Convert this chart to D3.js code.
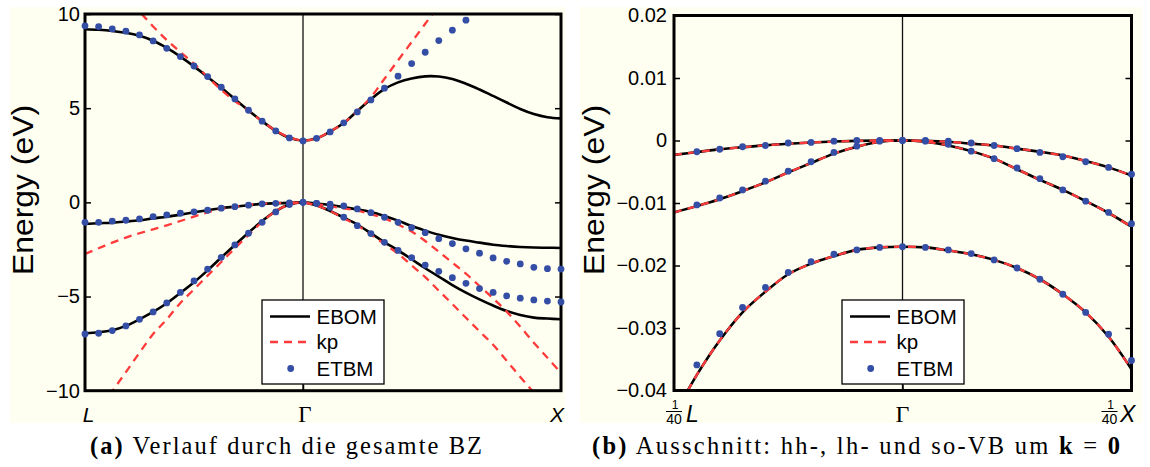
<!DOCTYPE html>
<html><head><meta charset="utf-8">
<script src="https://cdn.jsdelivr.net/npm/d3@7"></script>
<style>body{margin:0;background:#fff}svg{display:block}</style>
</head><body>
<svg id="c" width="1150" height="467"></svg>
<script>
// ---------------- DATA ----------------
// Panel (a): k positions in steps, L = -16, Γ = 0, X = +19
const kA = [-16,-15,-14,-13,-12,-11,-10,-9,-8,-7,-6,-5,-4,-3,-2,-1,0,1,2,3,4,5,6,7,8,9,10,11,12,13,14,15,16,17,18,19];
const xTicksA = [-16, 0, 19];
const xTickLabelsA = ["L", "Γ", "X"];
const yTicksA = [-10, -5, 0, 5, 10];

// EBOM (black solid)
const ebomCB_A  = [9.19,9.16,9.10,9.00,8.84,8.58,8.20,7.74,7.22,6.66,6.08,5.48,4.88,4.31,3.80,3.43,3.28,
                   3.40,3.76,4.21,4.85,5.47,6.02,6.37,6.58,6.69,6.68,6.55,6.30,5.99,5.65,5.30,4.96,4.69,4.52,4.46];
const ebomVB1_A = [-1.15,-1.11,-1.08,-1.02,-0.95,-0.85,-0.76,-0.65,-0.53,-0.42,-0.31,-0.23,-0.15,-0.08,-0.05,-0.03,0,
                   -0.07,-0.14,-0.26,-0.37,-0.51,-0.72,-0.97,-1.26,-1.50,-1.72,-1.89,-2.03,-2.14,-2.25,-2.32,-2.37,-2.40,-2.41,-2.42];
const ebomVB2_A = [-6.95,-6.90,-6.79,-6.56,-6.21,-5.82,-5.36,-4.81,-4.24,-3.61,-2.93,-2.26,-1.61,-0.99,-0.46,-0.12,0,
                   -0.17,-0.46,-0.81,-1.18,-1.64,-2.12,-2.55,-3.02,-3.50,-3.94,-4.39,-4.79,-5.15,-5.48,-5.77,-5.98,-6.12,-6.17,-6.21];
// kp (red dashed)
const kpCB_A  = [13.3,12.5,11.7,10.9,10.13,9.34,8.62,7.98,7.36,6.66,5.97,5.38,4.87,4.30,3.81,3.45,3.28,
                 3.40,3.76,4.21,4.85,5.58,6.56,7.54,8.51,9.48,10.46,11.4];
const kpVB1_A = [-2.74,-2.44,-2.14,-1.87,-1.64,-1.43,-1.22,-0.99,-0.76,-0.53,-0.35,-0.23,-0.14,-0.07,-0.04,-0.02,0,
                 -0.10,-0.21,-0.32,-0.44,-0.62,-0.85,-1.18,-1.55,-2.05,-2.62,-3.20,-3.79,-4.44,-5.10,-5.80,-6.60,-7.45,-8.25,-9.06];
const kpVB2_A = [-12.07,-11.05,-10.03,-9.01,-7.98,-6.99,-6.21,-5.34,-4.62,-3.89,-3.17,-2.44,-1.73,-1.04,-0.46,-0.12,0,
                 -0.18,-0.46,-0.85,-1.22,-1.72,-2.21,-2.73,-3.35,-3.97,-4.69,-5.40,-6.13,-6.85,-7.56,-8.41,-9.27,-10.1,-10.9,-11.7];
// ETBM (blue dots)
const etbmCB_A  = [9.37,9.33,9.21,9.09,8.89,8.57,8.18,7.74,7.24,6.68,6.11,5.49,4.89,4.31,3.79,3.42,3.26,
                   3.40,3.74,4.22,4.80,5.44,6.06,6.70,7.37,7.97,8.59,9.14,9.67];
const etbmVB1_A = [-1.06,-1.06,-1.00,-0.95,-0.88,-0.76,-0.67,-0.58,-0.51,-0.42,-0.31,-0.23,-0.15,-0.08,-0.05,-0.03,0,
                   -0.05,-0.10,-0.19,-0.35,-0.55,-0.79,-1.06,-1.34,-1.61,-1.93,-2.19,-2.47,-2.70,-2.95,-3.13,-3.27,-3.45,-3.52,-3.54];
const etbmVB2_A = [-6.99,-6.95,-6.81,-6.56,-6.21,-5.82,-5.34,-4.78,-4.17,-3.54,-2.92,-2.26,-1.64,-1.06,-0.51,-0.12,0,
                   -0.05,-0.26,-0.79,-1.24,-1.66,-2.12,-2.55,-2.94,-3.33,-3.66,-4.00,-4.30,-4.58,-4.78,-4.97,-5.09,-5.18,-5.24,-5.29];

// Panel (b): k positions in steps of 1/400, L side = -10, Γ = 0, X side = +10
const kB = [-10,-9,-8,-7,-6,-5,-4,-3,-2,-1,0,1,2,3,4,5,6,7,8,9,10];
const kDotsB = [-9,-8,-7,-6,-5,-4,-3,-2,-1,0,1,2,3,4,5,6,7,8,9,10];
const yTicksB = [-0.04,-0.03,-0.02,-0.01,0,0.01,0.02];
const ebomHH_B = [-0.0023,-0.00185,-0.00142,-0.00108,-0.00077,-0.00053,-0.00033,-0.00017,-0.00006,0,0,
                  -0.00005,-0.0002,-0.0005,-0.0008,-0.0013,-0.0018,-0.0024,-0.0033,-0.0043,-0.0056];
const ebomLH_B = [-0.0115,-0.0105,-0.0094,-0.0081,-0.0067,-0.0051,-0.0036,-0.0021,-0.0010,-0.0002,0,
                  -0.0002,-0.0008,-0.0017,-0.0029,-0.0046,-0.0063,-0.0079,-0.0097,-0.0116,-0.0138];
const ebomSO_B = [-0.0440,-0.0375,-0.0320,-0.0275,-0.0242,-0.0214,-0.0197,-0.0185,-0.0175,-0.0171,-0.0170,
                  -0.0171,-0.0176,-0.0182,-0.0191,-0.0204,-0.0222,-0.0246,-0.0275,-0.0314,-0.0366];
const kpHH_B = [-0.0023,-0.00185,-0.00142,-0.00108,-0.00077,-0.00053,-0.00033,-0.00017,-0.00006,0,0,
                -0.00005,-0.0002,-0.0005,-0.0008,-0.0013,-0.0018,-0.0024,-0.0033,-0.0043,-0.0056];
const kpLH_B = [-0.0115,-0.0105,-0.0094,-0.0081,-0.0067,-0.0051,-0.0036,-0.0021,-0.0010,-0.0002,0,
                -0.0002,-0.0008,-0.0017,-0.0029,-0.0046,-0.0063,-0.0079,-0.0097,-0.0116,-0.0138];
const kpSO_B = [-0.0440,-0.0375,-0.0320,-0.0275,-0.0242,-0.0214,-0.0197,-0.0185,-0.0175,-0.0171,-0.0170,
                -0.0171,-0.0176,-0.0182,-0.0191,-0.0204,-0.0222,-0.0246,-0.0275,-0.0314,-0.0366];
const etbmHH_B = [-0.0018,-0.0014,-0.0010,-0.0008,-0.0004,-0.0003,-0.0001,0,0,0,
                  0,-0.0001,-0.0004,-0.0008,-0.0013,-0.0019,-0.0026,-0.0034,-0.0043,-0.0054];
const etbmLH_B = [-0.0103,-0.0092,-0.0079,-0.0065,-0.0049,-0.0034,-0.0019,-0.0009,-0.0001,0,
                  -0.0001,-0.0006,-0.0017,-0.0029,-0.0044,-0.0061,-0.0079,-0.0097,-0.0115,-0.0133];
const etbmSO_B = [-0.0359,-0.0309,-0.0267,-0.0235,-0.0211,-0.0194,-0.0182,-0.0175,-0.0171,-0.0170,
                  -0.0171,-0.0175,-0.0181,-0.0191,-0.0204,-0.0222,-0.0246,-0.0275,-0.0310,-0.0352];

const legendLabels = ["EBOM", "kp", "ETBM"];
const yTitle = "Energy (eV)";

// ---------------- STYLE ----------------
const CREAM = "#fefef1", BLACK = "#000", RED = "#ff3a3a", BLUE = "#344ea6";
const SANS = "'Liberation Sans', Arial, Helvetica, sans-serif";
const SERIF = "'Liberation Serif', 'Times New Roman', serif";

const svg = d3.select("#c");

function panel(cfg) {
  const {id, x, y, bg} = cfg;
  const [x0, x1] = [x.range()[0], x.range()[x.range().length - 1]];
  const [y1, y0] = y.range();
  svg.append("rect").attr("x", bg[0]).attr("y", bg[1]).attr("width", bg[2]).attr("height", bg[3]).attr("fill", CREAM);
  svg.append("clipPath").attr("id", "clip" + id).append("rect")
     .attr("x", x0).attr("y", y0).attr("width", x1 - x0).attr("height", y1 - y0);
  const g = svg.append("g");

  // Γ vertical line
  g.append("line").attr("x1", x(0)).attr("x2", x(0)).attr("y1", y0).attr("y2", y1)
   .attr("stroke", "#111").attr("stroke-width", 1.3);

  // y axes (left with labels, right ticks only)
  const ay = g.append("g").attr("transform", `translate(${x0},0)`)
    .call(d3.axisLeft(y).tickValues(cfg.yTicks).tickSize(-6).tickPadding(cfg.yPad).tickFormat(cfg.yFmt));
  ay.select(".domain").remove();
  ay.selectAll(".tick line").attr("stroke-width", 1.5);
  ay.selectAll("text").attr("font-family", SANS).attr("font-size", cfg.tickFont).attr("fill", "#000");
  const ay2 = g.append("g").attr("transform", `translate(${x1},0)`)
    .call(d3.axisRight(y).tickValues(cfg.yTicks).tickSize(-6).tickFormat(""));
  ay2.select(".domain").remove();
  ay2.selectAll(".tick line").attr("stroke-width", 1.5);
  // bottom tick at Γ
  const ax = g.append("g").attr("transform", `translate(0,${y1})`)
    .call(d3.axisBottom(x).tickValues([0]).tickSize(-6).tickFormat(""));
  ax.select(".domain").remove();
  ax.selectAll(".tick line").attr("stroke-width", 1.5);

  // y title
  g.append("text").attr("transform", `translate(${cfg.titleX},${cfg.titleY}) rotate(-90)`)
   .attr("text-anchor", "middle").attr("font-family", SANS).attr("font-size", 29)
   .attr("textLength", 170).attr("lengthAdjust", "spacingAndGlyphs").text(yTitle);

  const plot = g.append("g").attr("clip-path", `url(#clip${id})`);
  const line = d3.line().x(d => x(d[0])).y(d => y(d[1])).curve(d3.curveCatmullRom.alpha(0.5));
  cfg.black.forEach(s => plot.append("path").datum(s.k.map((k, i) => [k, s.v[i]]).filter(d => d[1] !== undefined))
    .attr("d", line).attr("fill", "none").attr("stroke", BLACK).attr("stroke-width", 2.6));
  cfg.red.forEach(s => plot.append("path").datum(s.k.map((k, i) => [k, s.v[i]]).filter(d => d[1] !== undefined))
    .attr("d", line).attr("fill", "none").attr("stroke", RED).attr("stroke-width", 2.3).attr("stroke-dasharray", "8,6"));

  // frame
  g.append("rect").attr("x", x0).attr("y", y0).attr("width", x1 - x0).attr("height", y1 - y0)
   .attr("fill", "none").attr("stroke", "#000").attr("stroke-width", 3);

  // dots
  const ymin = y.domain()[0], ymax = y.domain()[1];
  cfg.dots.forEach(s => {
    const pts = s.v.map((v, i) => [s.k[i], v]).filter(d => d[1] >= ymin && d[1] <= ymax);
    g.append("g").selectAll("circle").data(pts).join("circle")
      .attr("cx", d => x(d[0])).attr("cy", d => y(d[1])).attr("r", 3.4).attr("fill", BLUE);
  });

  // legend
  const L = cfg.legend;
  const lg = g.append("g").attr("transform", `translate(${L[0]},${L[1]})`);
  lg.append("rect").attr("width", 122).attr("height", 84).attr("fill", "#fff").attr("stroke", "#000").attr("stroke-width", 1.3);
  const rows = [16.5, 42, 68.5];
  lg.append("line").attr("x1", 8).attr("x2", 48).attr("y1", rows[0]).attr("y2", rows[0]).attr("stroke", BLACK).attr("stroke-width", 2.6);
  lg.append("line").attr("x1", 8).attr("x2", 48).attr("y1", rows[1]).attr("y2", rows[1]).attr("stroke", RED).attr("stroke-width", 2.3).attr("stroke-dasharray", "8,6");
  lg.append("circle").attr("cx", 28.7).attr("cy", rows[2]).attr("r", 3.4).attr("fill", BLUE);
  legendLabels.forEach((t, i) => lg.append("text").attr("x", 54.5).attr("y", rows[i]).attr("dy", "0.36em")
    .attr("font-family", SANS).attr("font-size", 20.5).text(t));
  return g;
}

// ---------------- PANEL A ----------------
const xA = d3.scaleLinear().domain([-16, 0, 19]).range([85, 303, 561]);
const yA = d3.scaleLinear().domain([-10, 10]).range([390.7, 14]);
const kCBkpA = kA.slice(0, kpCB_A.length);
const gA = panel({
  id: "A", x: xA, y: yA, bg: [10, 7, 555, 416],
  yTicks: yTicksA, yPad: 5, yFmt: d3.format("d"), tickFont: 20,
  titleX: 33, titleY: 190, legend: [262, 300],
  black: [{k: kA, v: ebomCB_A}, {k: kA, v: ebomVB1_A}, {k: kA, v: ebomVB2_A}],
  red: [{k: kCBkpA, v: kpCB_A}, {k: kA, v: kpVB1_A}, {k: kA, v: kpVB2_A}],
  dots: [{k: kA, v: etbmCB_A}, {k: kA, v: etbmVB1_A}, {k: kA, v: etbmVB2_A}]
});
const xlA = gA.append("g");
xTicksA.forEach((t, i) => {
  xlA.append("text").attr("x", xA(t) + (i === 0 ? 3.5 : i === 2 ? -4 : 2)).attr("y", 422)
    .attr("text-anchor", "middle")
    .attr("font-family", i === 1 ? SERIF : SANS).attr("font-style", i === 1 ? "normal" : "italic")
    .attr("font-size", i === 1 ? 23 : 21).text(xTickLabelsA[i]);
});

// ---------------- PANEL B ----------------
const xB = d3.scaleLinear().domain([-10, 0, 10]).range([674, 902.5, 1131.5]);
const yB = d3.scaleLinear().domain([-0.04, 0.02]).range([390.5, 15.5]);
const gB = panel({
  id: "B", x: xB, y: yB, bg: [580, 7, 562, 416],
  yTicks: yTicksB, yPad: 7, yFmt: d => d === 0 ? "0" : d3.format(".2f")(d), tickFont: 20,
  titleX: 603.5, titleY: 190, legend: [842, 300],
  black: [{k: kB, v: ebomHH_B}, {k: kB, v: ebomLH_B}, {k: kB, v: ebomSO_B}],
  red: [{k: kB, v: kpHH_B}, {k: kB, v: kpLH_B}, {k: kB, v: kpSO_B}],
  dots: [{k: kDotsB, v: etbmHH_B}, {k: kDotsB, v: etbmLH_B}, {k: kDotsB, v: etbmSO_B}]
});
const xlB = gB.append("g");
function fracLabel(cx, letter, lx) {
  xlB.append("text").attr("x", cx + 1).attr("y", 409).attr("text-anchor", "middle").attr("font-family", SANS).attr("font-size", 12).text("1");
  xlB.append("line").attr("x1", cx - 8).attr("x2", cx + 8).attr("y1", 411.5).attr("y2", 411.5).attr("stroke", "#000").attr("stroke-width", 1);
  xlB.append("text").attr("x", cx).attr("y", 423.5).attr("text-anchor", "middle").attr("font-family", SANS).attr("font-size", 14).text("40");
  xlB.append("text").attr("x", lx).attr("y", 422).attr("font-family", SANS).attr("font-style", "italic").attr("font-size", 23).text(letter);
}
fracLabel(xB(-10), "L", 686);
fracLabel(xB(10) - 22, "X", 1120);
xlB.append("text").attr("x", xB(0)).attr("y", 422).attr("text-anchor", "middle").attr("font-family", SERIF).attr("font-size", 24).text("Γ");

// ---------------- CAPTIONS ----------------
const capA = svg.append("text").attr("x", 90).attr("y", 454).attr("font-family", SERIF).attr("font-size", 24.5)
  .attr("textLength", 392).attr("lengthAdjust", "spacing");
capA.append("tspan").attr("font-weight", "bold").text("(a)");
capA.append("tspan").text(" Verlauf durch die gesamte BZ");
const capB = svg.append("text").attr("x", 592).attr("y", 454).attr("font-family", SERIF).attr("font-size", 24.5)
  .attr("textLength", 528).attr("lengthAdjust", "spacing");
capB.append("tspan").attr("font-weight", "bold").text("(b)");
capB.append("tspan").text(" Ausschnitt: hh-, lh- und so-VB um ");
capB.append("tspan").attr("font-weight", "bold").text("k");
capB.append("tspan").text(" = ");
capB.append("tspan").attr("font-weight", "bold").text("0");
</script>
</body></html>
